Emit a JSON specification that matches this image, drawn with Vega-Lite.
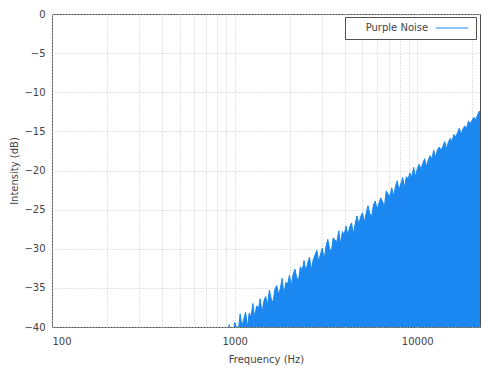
{
  "$schema": "https://vega.github.io/schema/vega-lite/v6.json",
  "width": 428,
  "height": 313,
  "autosize": {"type": "none"},
  "padding": {"left": 52, "top": 14, "right": 20, "bottom": 48},
  "background": "white",
  "config": {
    "font": "DejaVu Sans",
    "view": {"stroke": "#505050", "strokeWidth": 1},
    "axis": {
      "labelFont": "DejaVu Sans", "labelFontSize": 10, "labelColor": "#444444",
      "titleFont": "DejaVu Sans", "titleFontSize": 10, "titleFontWeight": "normal", "titleColor": "#444444",
      "domain": false, "ticks": false,
      "gridColor": "#c4c4c4", "gridDash": [1, 2], "gridWidth": 1, "gridOpacity": 1
    }
  },
  "data": {"values": [
    {"f": 891, "db": -40.6}, {"f": 912, "db": -41.9}, {"f": 933, "db": -39.7}, {"f": 955, "db": -40.8}, {"f": 977, "db": -41.5},
    {"f": 1000, "db": -39.4}, {"f": 1023, "db": -40.0}, {"f": 1047, "db": -40.5}, {"f": 1072, "db": -38.3}, {"f": 1096, "db": -39.9},
    {"f": 1122, "db": -39.0}, {"f": 1148, "db": -38.1}, {"f": 1175, "db": -40.0}, {"f": 1202, "db": -38.2}, {"f": 1230, "db": -38.7},
    {"f": 1259, "db": -37.0}, {"f": 1288, "db": -38.8}, {"f": 1318, "db": -37.3}, {"f": 1349, "db": -37.7}, {"f": 1380, "db": -36.4},
    {"f": 1413, "db": -38.2}, {"f": 1445, "db": -36.7}, {"f": 1479, "db": -36.1}, {"f": 1514, "db": -37.2}, {"f": 1549, "db": -35.3},
    {"f": 1585, "db": -36.4}, {"f": 1622, "db": -36.9}, {"f": 1660, "db": -35.2}, {"f": 1698, "db": -34.7}, {"f": 1738, "db": -35.8},
    {"f": 1778, "db": -35.1}, {"f": 1820, "db": -33.8}, {"f": 1862, "db": -35.9}, {"f": 1905, "db": -34.3}, {"f": 1950, "db": -34.5},
    {"f": 1995, "db": -33.4}, {"f": 2042, "db": -34.7}, {"f": 2089, "db": -33.3}, {"f": 2138, "db": -32.6}, {"f": 2188, "db": -33.7},
    {"f": 2239, "db": -34.0}, {"f": 2291, "db": -32.3}, {"f": 2344, "db": -32.8}, {"f": 2399, "db": -31.5}, {"f": 2455, "db": -32.9},
    {"f": 2512, "db": -31.8}, {"f": 2570, "db": -31.1}, {"f": 2630, "db": -32.7}, {"f": 2692, "db": -31.4}, {"f": 2754, "db": -30.8},
    {"f": 2818, "db": -30.2}, {"f": 2884, "db": -31.6}, {"f": 2951, "db": -30.7}, {"f": 3020, "db": -29.9}, {"f": 3090, "db": -31.4},
    {"f": 3162, "db": -29.7}, {"f": 3236, "db": -28.8}, {"f": 3311, "db": -30.0}, {"f": 3388, "db": -30.3}, {"f": 3467, "db": -28.6},
    {"f": 3548, "db": -28.9}, {"f": 3631, "db": -29.1}, {"f": 3715, "db": -27.7}, {"f": 3802, "db": -29.4}, {"f": 3890, "db": -27.8},
    {"f": 3981, "db": -28.2}, {"f": 4074, "db": -27.1}, {"f": 4169, "db": -28.3}, {"f": 4266, "db": -27.2}, {"f": 4365, "db": -26.7},
    {"f": 4467, "db": -28.1}, {"f": 4571, "db": -26.8}, {"f": 4677, "db": -25.8}, {"f": 4786, "db": -26.9}, {"f": 4898, "db": -25.9},
    {"f": 5012, "db": -25.4}, {"f": 5129, "db": -26.6}, {"f": 5248, "db": -25.5}, {"f": 5370, "db": -24.5}, {"f": 5495, "db": -25.5},
    {"f": 5623, "db": -25.9}, {"f": 5754, "db": -24.4}, {"f": 5888, "db": -23.9}, {"f": 6026, "db": -25.0}, {"f": 6166, "db": -24.2},
    {"f": 6310, "db": -23.5}, {"f": 6457, "db": -24.0}, {"f": 6607, "db": -24.6}, {"f": 6761, "db": -22.6}, {"f": 6918, "db": -23.0},
    {"f": 7079, "db": -23.4}, {"f": 7244, "db": -22.2}, {"f": 7413, "db": -23.3}, {"f": 7586, "db": -22.1}, {"f": 7762, "db": -21.3},
    {"f": 7943, "db": -22.5}, {"f": 8128, "db": -21.7}, {"f": 8318, "db": -20.9}, {"f": 8511, "db": -22.2}, {"f": 8710, "db": -20.8},
    {"f": 8913, "db": -21.1}, {"f": 9120, "db": -20.3}, {"f": 9333, "db": -20.9}, {"f": 9550, "db": -19.6}, {"f": 9772, "db": -20.8},
    {"f": 10000, "db": -19.8}, {"f": 10233, "db": -19.2}, {"f": 10471, "db": -19.8}, {"f": 10715, "db": -19.1}, {"f": 10965, "db": -18.5},
    {"f": 11220, "db": -19.5}, {"f": 11482, "db": -18.7}, {"f": 11749, "db": -18.1}, {"f": 12023, "db": -18.5}, {"f": 12303, "db": -17.4},
    {"f": 12589, "db": -18.3}, {"f": 12882, "db": -17.4}, {"f": 13183, "db": -17.0}, {"f": 13490, "db": -17.4}, {"f": 13804, "db": -16.9},
    {"f": 14125, "db": -16.3}, {"f": 14454, "db": -17.2}, {"f": 14791, "db": -16.4}, {"f": 15136, "db": -15.9}, {"f": 15488, "db": -16.3},
    {"f": 15849, "db": -15.4}, {"f": 16218, "db": -15.7}, {"f": 16596, "db": -15.2}, {"f": 16982, "db": -14.6}, {"f": 17378, "db": -15.4},
    {"f": 17783, "db": -14.7}, {"f": 18197, "db": -14.3}, {"f": 18621, "db": -14.6}, {"f": 19055, "db": -13.7}, {"f": 19498, "db": -14.0},
    {"f": 19953, "db": -13.6}, {"f": 20417, "db": -13.2}, {"f": 20893, "db": -13.5}, {"f": 21380, "db": -12.9}, {"f": 21878, "db": -12.4},
    {"f": 22050, "db": -12.6}
  ]},
  "encoding": {
    "x": {
      "field": "f", "type": "quantitative",
      "scale": {"type": "log", "domain": [100, 22050], "nice": false},
      "axis": {
        "title": "Frequency (Hz)",
        "values": [100, 200, 300, 400, 500, 600, 700, 800, 900, 1000, 2000, 3000, 4000, 5000, 6000, 7000, 8000, 9000, 10000, 20000],
        "format": "d",
        "labelExpr": "datum.value == 100 || datum.value == 1000 || datum.value == 10000 ? datum.label : ''",
        "labelPadding": 9, "titlePadding": 8
      }
    },
    "y": {
      "field": "db", "type": "quantitative",
      "scale": {"domain": [-40, 0], "nice": false},
      "axis": {
        "title": "Intensity (dB)",
        "values": [-40, -35, -30, -25, -20, -15, -10, -5, 0],
        "labelPadding": 7, "titlePadding": 4
      }
    }
  },
  "layer": [
    {
      "mark": {"type": "area", "clip": true, "interpolate": "linear", "color": "#1a88f0"},
      "encoding": {"y2": {"datum": -40}}
    },
    {
      "mark": {"type": "line", "clip": true, "interpolate": "linear", "strokeWidth": 1},
      "encoding": {
        "color": {
          "datum": "Purple Noise", "type": "nominal",
          "scale": {"range": ["#1a88f0"]},
          "legend": {
            "title": "\u2800\u2800Purple Noise",
            "orient": "none", "legendX": 293, "legendY": 3,
            "titleOrient": "left", "titlePadding": 18,
            "titleFontWeight": "normal", "titleFontSize": 10, "titleColor": "#444444",
            "titleBaseline": "middle",
            "symbolType": "M-4,0H4", "symbolSize": 64, "symbolStrokeWidth": 1,
            "labelExpr": "''", "labelOffset": 0,
            "padding": 6, "strokeColor": "#505050", "fillColor": "white"
          }
        }
      }
    }
  ]
}
